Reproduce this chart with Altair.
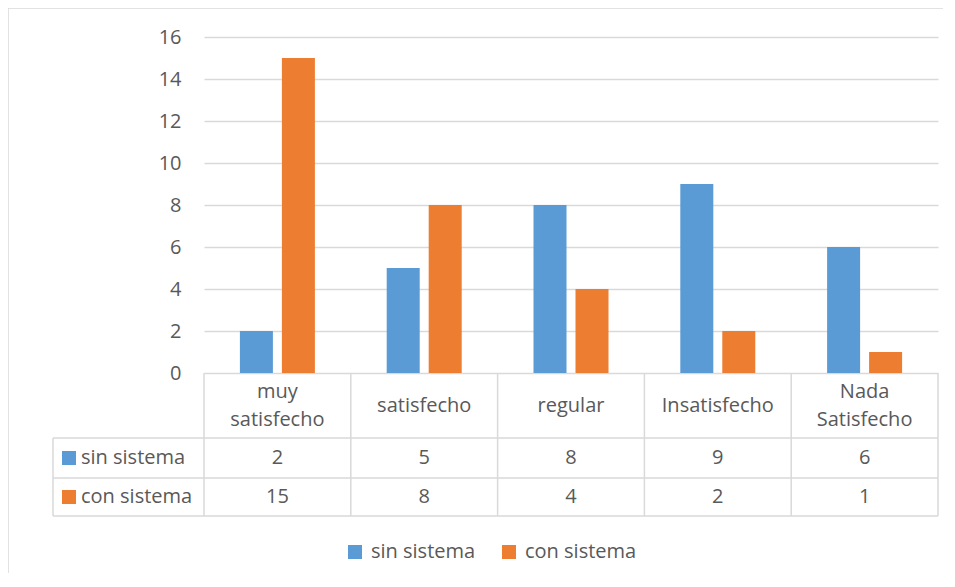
import altair as alt
import pandas as pd

categories = ["muy satisfecho", "satisfecho", "regular", "Insatisfecho", "Nada Satisfecho"]
header_labels = ["muy\nsatisfecho", "satisfecho", "regular", "Insatisfecho", "Nada\nSatisfecho"]
series_names = ["sin sistema", "con sistema"]
sin_sistema = [2, 5, 8, 9, 6]
con_sistema = [15, 8, 4, 2, 1]
y_ticks = [0, 2, 4, 6, 8, 10, 12, 14, 16]
colors = ["#5B9BD5", "#ED7D31"]

rows = []
for i, c in enumerate(categories):
    rows.append({"cat": c, "label": header_labels[i], "series": series_names[0], "value": sin_sistema[i]})
    rows.append({"cat": c, "label": header_labels[i], "series": series_names[1], "value": con_sistema[i]})
df = pd.DataFrame(rows)
cats_df = pd.DataFrame({"cat": categories, "label": header_labels})
cats_df["multi"] = cats_df["label"].str.contains("\n")
one = pd.DataFrame({"k": [0]})

W, H = 734, 336
FONT = "Open Sans"
TXT = "#595959"
LINE = "#D9D9D9"
FS = 20
LH = 28

xscale = alt.Scale(domain=categories, paddingInner=0, paddingOuter=0)
x_enc = alt.X("cat:N", scale=xscale, axis=None, sort=categories)
color_enc = alt.Color(
    "series:N",
    scale=alt.Scale(domain=series_names, range=colors),
    legend=alt.Legend(
        title=None, orient="none", direction="horizontal",
        legendX=141, legendY=505, symbolType="square", symbolSize=196,
        symbolStrokeWidth=0, labelFont=FONT, labelFontSize=FS, labelColor=TXT,
        columnPadding=23, labelOffset=6, padding=0, labelLimit=300,
    ),
)

bars = alt.Chart(df).mark_bar().encode(
    x=x_enc,
    xOffset=alt.XOffset("series:N", sort=series_names,
                        scale=alt.Scale(domain=series_names, paddingInner=0.214, paddingOuter=0.855)),
    y=alt.Y("value:Q", scale=alt.Scale(domain=[0, 16], nice=False),
            axis=alt.Axis(values=y_ticks, title=None, domain=False, ticks=False, tickSize=0,
                          labelPadding=23, labelFont=FONT, labelFontSize=FS, labelColor=TXT,
                          grid=True, gridColor=LINE, gridWidth=1.3)),
    color=color_enc,
)

# outer chart border
border = alt.Chart(one).mark_rect(fill=None, stroke=LINE, strokeWidth=1.5).encode(
    x=alt.value(-196), x2=alt.value(900), y=alt.value(-29), y2=alt.value(700)
)

# table vertical lines at category boundaries
vlines = alt.Chart(cats_df).mark_rule(color=LINE, strokeWidth=1.5).encode(
    x=alt.X("cat:N", scale=xscale, axis=None, sort=categories, bandPosition=0),
    y=alt.value(H), y2=alt.value(H + 143),
)
vright = alt.Chart(one).mark_rule(color=LINE, strokeWidth=1.5).encode(
    x=alt.value(W), y=alt.value(H), y2=alt.value(H + 143)
)
vleft = alt.Chart(one).mark_rule(color=LINE, strokeWidth=1.5).encode(
    x=alt.value(-151), y=alt.value(H + 65), y2=alt.value(H + 143)
)
hlines = [
    alt.Chart(one).mark_rule(color=LINE, strokeWidth=1.5).encode(
        x=alt.value(-151), x2=alt.value(W), y=alt.value(H + dy)
    )
    for dy in (65, 105, 143)
]

header_single = alt.Chart(cats_df[~cats_df["multi"]]).mark_text(
    font=FONT, fontSize=FS, color=TXT, baseline="middle"
).encode(
    x=alt.X("cat:N", scale=xscale, axis=None, sort=categories),
    y=alt.value(H + 33),
    text="label:N",
)
header_multi = alt.Chart(cats_df[cats_df["multi"]]).mark_text(
    font=FONT, fontSize=FS, color=TXT, lineBreak="\n", lineHeight=LH, baseline="middle"
).encode(
    x=alt.X("cat:N", scale=xscale, axis=None, sort=categories),
    y=alt.value(H + 33 - LH / 2),
    text="label:N",
)

row_y = {series_names[0]: H + 85, series_names[1]: H + 124}
value_texts = []
label_texts = []
for s in series_names:
    sub = df[df["series"] == s]
    value_texts.append(
        alt.Chart(sub).mark_text(font=FONT, fontSize=FS, color=TXT, baseline="middle").encode(
            x=alt.X("cat:N", scale=xscale, axis=None, sort=categories),
            y=alt.value(row_y[s]),
            text="value:Q",
        )
    )
    lab = pd.DataFrame({"series": [s]})
    label_texts.append(
        alt.Chart(lab).mark_point(shape="square", filled=True, size=196, opacity=1).encode(
            x=alt.value(-135), y=alt.value(row_y[s]),
            color=alt.Color("series:N", scale=alt.Scale(domain=series_names, range=colors), legend=None),
        )
    )
    label_texts.append(
        alt.Chart(lab).mark_text(font=FONT, fontSize=FS, color=TXT, align="left", baseline="middle").encode(
            x=alt.value(-123), y=alt.value(row_y[s]), text="series:N"
        )
    )

chart = alt.layer(
    border, bars, vlines, vright, vleft, *hlines, header_single, header_multi, *value_texts, *label_texts
).properties(
    width=W, height=H,
    autosize=alt.AutoSizeParams(type="none"),
    padding={"left": 196, "top": 29, "right": 5, "bottom": 200},
).configure_view(stroke=None)

chart.save("out.html", embed_options={"renderer": "svg", "actions": False})
